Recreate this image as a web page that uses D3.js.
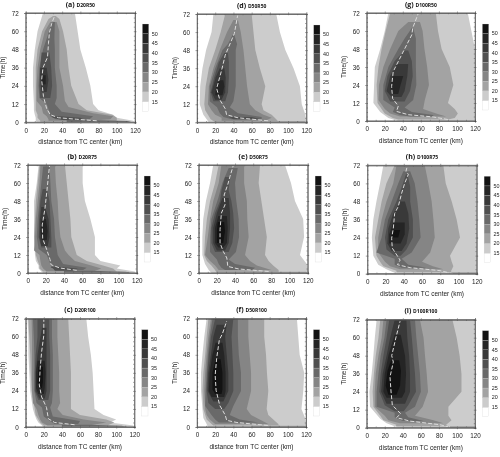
<!DOCTYPE html>
<html><head><meta charset="utf-8">
<script src="https://cdn.jsdelivr.net/npm/d3@7"></script>
<style>html,body{margin:0;padding:0;background:#fff}svg{display:block;filter:blur(0.35px)}</style></head>
<body><svg id="c" width="500" height="457"></svg>
<script>
// colour levels
const levels=[15,20,25,30,35,40,45,50];
const levelColors=["#cccccc","#a3a3a3","#858585","#696969","#505050","#393939","#252525","#121212"];
const barColors=["#ffffff",...levelColors];
const xTicks=[0,20,40,60,80,100,120];
const yTicks=[0,12,24,36,48,60,72];
const panelTitles=[["(a)","D20R50"],["(d)","D50R50"],["(g)","D100R50"],["(b)","D20R75"],["(e)","D50R75"],["(h)","D100R75"],["(c)","D20R100"],["(f)","D50R100"],["(i)","D100R100"]];
const frames=[[25.7,13,109.3,109.3],[197,14,109.3,108.3],[366.7,13,108.3,108],[27.7,165,109,108],[198.7,165,109,108],[367.3,165.3,109.4,108.4],[25.7,318.7,108.6,108.3],[197,318.7,109,108.3],[366.7,319.7,108.3,108]];

// contour bands: [time, left km, right km]
const a15=[[0,12,120],[1,11,118],[3,11,100],[5,10,96],[8,9,80],[12,9,74],[24,8,71],[36,8,66],[48,10,60],[60,13,57],[72,19,54]];
const a20=[[0,16,90],[1,16,100],[3,13,100],[5,13,95],[8,11,67],[12,11,58],[24,11,50],[36,11,47],[48,13,45],[60,18,41],[68,25,37],[70,30,33]];
const a25=[[1,25,70],[2,25,93],[4,23,96],[6,19,74],[10,17.5,47],[14,12,43],[24,12,41],[36,13,37],[48,16,37],[60,21,37],[66,27,34]];
const a30=[[2,33,70],[4,27,74],[7,26,39.5],[12,23,32],[16,15,34],[24,14,34],[36,15,32],[48,19,32],[55,23,31.5],[66,28.5,32]];
const a30b=[[0.2,45,116],[0.8,45,112],[1.5,45,72]];
const a35=[[16,16,27],[24,15,29],[36,16,28],[46,17.5,26]];
const a35b=[[1.5,40,65],[3,30,60],[4,29,38]];
const a40=[[20,17.5,23],[28,16,25],[36,16,23]];
const a45=[[25,17.5,22],[31,17.5,22]];
const aLine=[[1,78],[2,56],[3,36],[5,27],[9,23],[17,19.5],[28,17.5],[36,19],[43,24],[52,25],[59,26],[65,28.5],[70.5,32]];

const d15=[[0,13,120],[5,7,119],[12,3,115],[24,3.5,113],[36,6,106],[48,10,97],[60,16,91],[72,18,87]];
const d20=[[0,20,90],[2,15,87],[5,12,82],[8,9,73],[12,8,71],[24,9.5,75],[36,13,69],[48,20,64],[60,26,62],[72,31,60]];
const d20b=[[0,60,120],[0.9,60,118]];
const d25=[[1,27,75],[3,27,82],[5,20,73],[8,16,64],[12,12,58],[24,13,55],[36,18,53],[48,25,51],[60,33,48],[68,40,45]];
const d30=[[2,38,71],[3.5,29,71],[6,25,45],[10,22,36],[14,14,40],[24,14,42.5],[36,20,42.5],[48,28,42.5],[52,34,44],[58,39,41]];
const d35=[[14,18,31],[20,15,34],[30,19,35],[40,24,35],[46,30,34]];
const d35b=[[2,40,70],[3.5,35,60]];
const d40=[[15,20,27],[20,16,31],[30,20.5,31.5],[36,25,30]];
const d45=[[18,20,28],[24,21,30],[28,23.4,29]];
const dLine=[[1,78],[3,45],[5,32.5],[9,31],[15,25],[22.5,21.6],[34.6,27],[44.6,31],[59,41],[71,44.6]];

const g15=[[0,35,120],[2,24,120],[6,15,120],[12,7.4,120],[36,9,120],[48,15,120],[60,20,116],[72,24,112]];
const g20=[[1,35,90],[2,29,97.5],[5,20,101],[8,16.5,97.5],[12,12,90],[24,11,96],[36,13,92],[48,16.5,83],[60,21,79],[72,26,76.6]];
const g25=[[3,37,88],[5,26,77],[8,20,62.5],[14,13,64.4],[24,13.6,69],[36,18.4,67],[48,26,64],[60,35,62],[66,46,59]];
const g30=[[3,48,74],[4,37,73.6],[6,29,50],[9,31,42],[14,18.4,51.5],[24,18.4,55],[36,24,54.5],[48,35,54.5],[55,42,54.5],[62,50,51.5]];
const g35=[[13,26,42],[20,20,48],[30,23,51],[40,31,50],[47,42,46]];
const g40=[[16,27.6,38.6],[20,22,42],[30,26,45],[38,33,46]];
const g45=[[18,27,35],[24,26,37.5],[30,29.4,40.5]];
const gLine=[[1,90],[2.7,73.6],[4.2,46],[6.4,33],[10,35],[15,28.7],[23,27.6],[33,29.4],[44,38.6],[57.5,50],[62,51],[71.5,57]];

const b15=[[0,17,118],[1,15,118],[3,12,98],[5,12,102],[8,9,80],[12,8,74],[24,7,74],[36,7,69],[48,7,63],[60,10,60.5],[72,12,60.5]];
const b20=[[1,17,98],[3,13,94],[5,13,83],[8,11,65],[12,9,54],[24,7,48],[36,8,47],[48,9,45],[60,11,43],[72,13,41]];
const b25=[[1,21,72],[3,17,81],[5,15,70],[8,14,52],[12,13,45],[15,7,41],[24,8,36],[36,9,34],[48,11,33],[60,13,31],[72,14,30]];
const b30=[[2,35,61],[3.5,26,65],[6,25,39],[12,21,33],[16,12,32],[24,10,30],[36,11,29],[48,13,26],[60,15,25],[71,17,24]];
const b30b=[[0.2,40,114],[0.8,40,108],[1.5,40,70]];
const b35=[[17,15,26],[24,12,26],[36,12.5,25],[48,14,24],[56,16.5,21]];
const b35b=[[1.5,30,50],[3,28,55],[4,25,35]];
const b40=[[18,15,22],[24,13,24],[36,13.5,23],[44,15,19]];
const b45=[[22,15.5,21],[28,14,22],[36,15.5,20]];
const bLine=[[1.8,54],[3.3,35.6],[5.5,25.7],[9,24.6],[15.5,21],[23,16.5],[32,16],[43,19],[54,21],[71.4,24]];

const e15=[[0,14,119],[2,11,120],[6,7,119],[12,4,111.5],[24,4,116],[36,5,115],[48,8,106],[60,12.5,101.6],[72,16,95]];
const e20=[[0,20,88],[2,18,88],[5,14,82],[8,9,77],[12,6,73],[24,7,75],[36,9,72],[48,12.5,69],[60,18,66],[72,22,67.5]];
const e20b=[[0,60,120],[0.9,60,118]];
const e25=[[2,22,80],[5,18,64],[8,12.5,56.5],[12,7,51],[24,10,55],[36,12.5,53.5],[48,16,53],[60,22,50],[72,25,50]];
const e30=[[2,29,59],[3.5,25,62],[6,22,40],[9,20,33],[14,12.5,41],[24,12.5,44.4],[36,14,44],[50,21.6,41],[60,26,40],[70,33,43]];
const e35=[[14,18,33],[20,14,37],[30,14,39],[40,18,38],[48,23.5,36],[55,25,33],[64,29,34.5]];
const e40=[[15,20,29],[20,16,33],[30,16,34.5],[40,20,34.5],[50,26,33]];
const e45=[[17,21.6,27],[20,18,31],[30,18,32],[38,21.6,31]];
const e50=[[20,20,27],[28,20,29],[34,21,28]];
const eLine=[[1,77],[2.7,44],[4.4,32],[10,31],[14.4,27],[20,23.5],[29,23.5],[40,25],[45.5,29],[52,28],[59,32],[64.5,34.5],[71.5,38]];

const h15=[[0,38,120],[1,28.5,120],[3,21,120],[6,12,120],[12,6.6,120],[24,5,120],[36,6.6,120],[48,10,120],[60,14,120],[72,17.6,120]];
const h20=[[1,32,92],[2,32,92],[5,17.6,94.4],[8,14,92.6],[12,10,90.7],[24,8.4,101.7],[36,12,98],[48,15.7,92.6],[60,21,86],[72,30,83.4]];
const h30b=[[0,92,120],[0.7,92,120]];
const h25=[[3,36,83.4],[5,25,72],[8,19.4,60],[14,12,69],[24,12,74],[36,15.7,72.5],[48,21,70.6],[60,28.5,67],[72,32,63]];
const h30=[[4,38,65],[6,30,45],[10,30,37.7],[14,10,48.7],[24,15.7,58.5],[36,19.4,57],[48,26.7,55],[60,34,52],[68,39.5,47]];
const h35=[[12,30,36.6],[16,21,43],[24,19.4,50],[36,23,50],[48,32,47],[58,38,47],[66,42.4,44]];
const h40=[[15,26.7,37.7],[20,22,43],[30,23,46],[40,28.5,45],[48,36,41.3]];
const h45=[[20,24,36.6],[26,24,41],[34,28.5,41]];
const h50=[[24,26,34],[29,28,36]];
const hLine=[[0,94],[2,80],[4,47],[6,33],[9,36],[17,27.4],[23.5,26.7],[30,28.5],[40,30],[44.7,34],[53.5,37.7],[60,41],[66,45],[68,42.4],[71.8,44]];

const c15=[[0,19,120],[1,18,119],[3,14,93],[5,12,100],[8,10,86],[12,8,76],[24,5,75],[36,4,74],[48,3,72],[60,3,69],[72,2,67]];
const c20=[[1,20,90],[3,16,98],[5,14,89],[8,11,60],[12,10,50],[24,6.5,50],[36,5.5,50],[48,5,49],[60,4,48],[72,3,47]];
const c25=[[1,24,70],[3,18,89],[5,16,64],[8,14,41],[12,12,35],[16,8,38],[24,7,37],[36,7,37],[48,7,36],[60,7,35],[72,6.5,35]];
const c30=[[2,32,58],[4,27,60],[7,20,30],[13,18,27],[16,12,29],[24,9.5,30],[36,9.5,30],[48,9.5,30],[60,9,29],[72,8,29]];
const c30b=[[0.2,40,112],[0.8,40,106],[1.5,40,70]];
const c35=[[18,14,25],[24,10,27],[36,10,27],[48,11,27],[60,13,26],[72,13,26]];
const c40=[[19,15,21],[24,11,23],[36,11,23],[48,13,23],[66,18,23]];
const c45=[[22,14,20],[26,11.5,21],[36,11.5,22],[44,13,21]];
const c50=[[26,15,18],[30,13,19],[40,14,19]];
const cLine=[[1.5,54],[3,32],[5.5,25],[13,23],[20,17.6],[28,15],[39,16],[50,17.6],[61,20],[71.6,20]];

const f15=[[0,12,120],[2,10.6,120],[6,7,119],[12,6,115],[24,4.4,117],[36,4.4,118],[48,6,113],[60,8,111.5],[72,10.6,110]];
const f20=[[1,18,90],[2,16,89.5],[5,10.6,84],[8,9,78.5],[12,7,76.7],[24,6,78.5],[36,7,77],[48,9,76],[60,10.6,74],[72,12.5,74]];
const f20b=[[0,60,120],[0.9,60,118]];
const f25=[[2,20,78.5],[5,14,69],[8,10.6,59.5],[12,9,54.7],[24,8,59.5],[36,9,59.5],[48,10.6,58],[60,12.5,56.5],[72,15.4,56.5]];
const f30=[[3,24,67.5],[5,20,47],[8,16,36],[14,9,40],[24,9.5,48.4],[36,10.6,48.4],[48,12,46],[60,14,45],[72,17,45]];
const f35=[[12,20,30],[16,12.5,34.5],[24,10.6,40],[36,11.4,40],[48,13,39],[60,15.4,38],[72,20,40]];
const f40=[[17,18,29],[24,11.7,34.5],[36,12.5,34.5],[48,15.4,32.7],[60,18,31],[68,21.6,32.7]];
const f45=[[20,16,30],[24,13,31.5],[36,14,31.5],[48,17,30],[56,20.5,28]];
const f50=[[22,20,27],[25,17,28],[36,17,28],[45,20.5,26]];
const fLine=[[1,78],[3,44],[4.4,32.7],[8,31],[14.4,25],[24.4,21],[34.4,20],[45.5,21.6],[58,24.6],[62,28],[70.4,32.7]];

const i15=[[0,37,120],[1,31,120],[3,22,120],[6,15,120],[14,3.7,120],[24,3,120],[36,5.5,120],[48,7.4,120],[60,9,120],[72,11,120]];
const i20=[[1,32,90],[2,33,88],[5,18.5,94],[8,15,90.5],[14,7.4,90.5],[24,6.6,105],[36,8,105],[48,10,103],[60,13,99.7],[72,15,95]];
const i30b=[[0,92,120],[0.7,92,120]];
const i25=[[3,37,85],[5,24,74],[8,20,53.5],[14,9,62],[24,9,68],[36,10,66.5],[48,13,64.6],[60,16.6,63],[72,18.5,59]];
const i30=[[4.5,40,63],[7,31,46],[10,31,42.5],[14,11,53.5],[24,11,60],[36,13,59],[48,15.5,57],[60,19.6,55],[72,22,53.5]];
const i35=[[11,31,41],[15,20,46],[24,14,54.6],[36,15.5,53.5],[48,18.5,51.7],[60,22,50],[72,25,48]];
const i40=[[16,22,42.5],[24,16,48],[36,17.7,48],[48,22,47],[60,26,45],[72,31,44]];
const i45=[[20,22,39],[24,18.5,42.5],[36,20,43.6],[48,24,42.5],[62,31,37.7]];
const i50=[[22,24,33],[28,21,37],[38,23,38],[45,27,36]];
const iLine=[[0.4,92],[2,81],[4.4,48],[6.7,33],[9.3,37.7],[15,28.4],[23.8,27],[33.8,25.8],[43.8,29.5],[48,27.7],[60.4,32.5],[71,37]];

const panelBands=[
 [[0,a15],[1,a20],[2,a25],[3,a30],[3,a30b],[4,a35],[4,a35b],[5,a40],[6,a45]],
 [[0,d15],[1,d20],[1,d20b],[2,d25],[3,d30],[4,d35],[4,d35b],[5,d40],[6,d45]],
 [[0,g15],[1,g20],[2,g25],[3,g30],[4,g35],[5,g40],[6,g45]],
 [[0,b15],[1,b20],[2,b25],[3,b30],[3,b30b],[4,b35],[4,b35b],[5,b40],[6,b45]],
 [[0,e15],[1,e20],[1,e20b],[2,e25],[3,e30],[4,e35],[5,e40],[6,e45],[7,e50]],
 [[0,h15],[1,h20],[2,h25],[3,h30],[3,h30b],[4,h35],[5,h40],[6,h45],[7,h50]],
 [[0,c15],[1,c20],[2,c25],[3,c30],[3,c30b],[4,c35],[5,c40],[6,c45],[7,c50]],
 [[0,f15],[1,f20],[1,f20b],[2,f25],[3,f30],[4,f35],[5,f40],[6,f45],[7,f50]],
 [[0,i15],[1,i20],[2,i25],[3,i30],[3,i30b],[4,i35],[5,i40],[6,i45],[7,i50]]];
const panelLines=[aLine,dLine,gLine,bLine,eLine,hLine,cLine,fLine,iLine];

const svg=d3.select("#c");
const inkColor="#444";
panelTitles.forEach((title,i)=>{
  const [px,py,w,h]=frames[i];
  const g=svg.append("g").attr("transform",`translate(${px},${py})`);
  const x=d3.scaleLinear().domain([0,120]).range([0,w]);
  const y=d3.scaleLinear().domain([0,72]).range([h,0]);
  const area=d3.area().x0(d=>x(d[1])).x1(d=>x(d[2])).y(d=>y(d[0]));
  panelBands[i].forEach(([lv,rows])=>{
    g.append("path").attr("d",area(rows)).attr("fill",levelColors[lv]);
  });
  const line=d3.line().x(d=>x(d[1])).y(d=>y(d[0]));
  g.append("path").attr("d",line(panelLines[i])).attr("fill","none")
    .attr("stroke","#dcdcdc").attr("stroke-width",1).attr("stroke-dasharray","4,2");
  // axes
  const axisStyle=s=>{s.selectAll("text").attr("font-family","'Liberation Sans',sans-serif").attr("font-size",6.3).attr("fill","#222");
    s.selectAll("line,path").attr("stroke",inkColor).attr("stroke-width",0.5);};
  const minorX=d3.range(0,121,10), minorY=d3.range(0,73,3);
  g.append("g").attr("transform",`translate(0,${h})`).call(d3.axisBottom(x).tickValues(minorX).tickSize(-1.2).tickFormat("")).call(axisStyle);
  g.append("g").call(d3.axisTop(x).tickValues(minorX).tickSize(-1.2).tickFormat("")).call(axisStyle);
  g.append("g").call(d3.axisLeft(y).tickValues(minorY).tickSize(-1.2).tickFormat("")).call(axisStyle);
  g.append("g").attr("transform",`translate(${w},0)`).call(d3.axisRight(y).tickValues(minorY).tickSize(-1.2).tickFormat("")).call(axisStyle);
  g.append("g").attr("transform",`translate(0,${h})`).call(d3.axisBottom(x).tickValues(xTicks).tickSize(1.5).tickPadding(4.5)).call(axisStyle);
  g.append("g").call(d3.axisLeft(y).tickValues(yTicks).tickSize(1.5).tickPadding(5.5)).call(axisStyle);
  g.append("g").call(d3.axisTop(x).tickValues(xTicks).tickSize(1.5).tickFormat("")).call(axisStyle);
  g.append("g").attr("transform",`translate(${w},0)`).call(d3.axisRight(y).tickValues(yTicks).tickSize(1.5).tickFormat("")).call(axisStyle);
  g.append("rect").attr("width",w).attr("height",h).attr("fill","none").attr("stroke","#666").attr("stroke-width",0.5);
  // slightly heavier top and bottom rules
  [0,h].forEach(ry=>g.append("line").attr("x1",0).attr("x2",w).attr("y1",ry).attr("y2",ry).attr("stroke","#707070").attr("stroke-width",0.8));
  // labels
  const lab=(t,tx,ty)=>g.append("text").attr("x",tx).attr("y",ty).attr("text-anchor","middle")
    .attr("font-family","'Liberation Sans',sans-serif").attr("font-size",6.5).attr("fill","#222").text(t);
  lab("distance from TC center (km)",w/2,h+22);
  lab("Time(h)",0,0).attr("transform",`translate(-20.5,${h/2}) rotate(-90)`);
  const tt=g.append("text").attr("x",w/2).attr("y",-6.5).attr("text-anchor","middle")
    .attr("font-family","'Open Sans',sans-serif").attr("font-weight",700).attr("fill","#111");
  tt.append("tspan").attr("font-size",7).text(title[0]+" ");
  tt.append("tspan").attr("font-size",5).text(title[1]);
  // colour bar
  const barScale=d3.scaleBand().domain(d3.range(barColors.length)).range([h+11-22,11]);
  const bar=g.append("g").attr("transform",`translate(${w+7.4},0)`);
  bar.selectAll("rect").data(barColors).join("rect")
    .attr("y",(d,k)=>barScale(k)).attr("width",6.3).attr("height",barScale.bandwidth())
    .attr("fill",d=>d).attr("stroke","#ccc").attr("stroke-width",0.25);
  const barAxis=d3.scaleLinear().domain([15,50]).range([barScale(0),barScale(7)]);
  bar.selectAll("text").data(levels).join("text")
    .attr("x",9.3).attr("y",d=>barAxis(d)+1.9)
    .attr("font-family","'Liberation Sans',sans-serif").attr("font-size",5.4).attr("fill","#222").text(d=>d);
});
</script></body></html>
